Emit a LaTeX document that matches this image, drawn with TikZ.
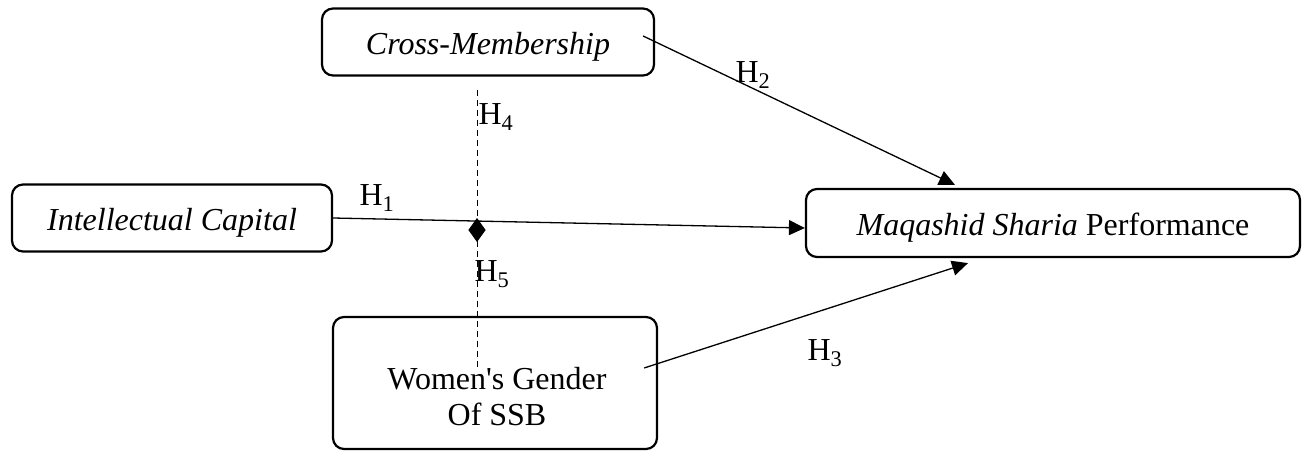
\documentclass[tikz,border=0pt]{standalone}
\usepackage{fontspec}
\setmainfont{Liberation Serif}
\usetikzlibrary{calc}
\usetikzlibrary{arrows.meta}
\tikzset{
  varbox/.style={draw, line width=2.2pt, rounded corners=11pt, inner sep=0pt, text height=29pt, text depth=4pt, align=center, font=\fontsize{32}{36}\selectfont},
  vartext/.style={inner sep=0pt, align=center, font=\fontsize{32}{36}\selectfont},
  hlabel/.style={inner sep=0pt, font=\fontsize{32}{36}\selectfont},
  link/.style={line width=1.3pt, -{Triangle[length=16pt,width=15pt]}},
  modlink/.style={line width=1pt, dash pattern=on 6pt off 4pt, -{Triangle[length=12pt,width=17pt]}}
}
\begin{document}
\begin{tikzpicture}[x=1pt,y=-1pt]
        \useasboundingbox (0,0) rectangle (1316,450);
        % variables
        \node[varbox, minimum width=332pt, minimum height=67pt] (cm) at (488,42) {\textit{Cross-Membership}};
        \node[varbox, minimum width=320pt, minimum height=67pt] (ic) at (172,218) {\textit{Intellectual Capital}};
        \node[varbox, minimum width=494pt, minimum height=68pt] (msp) at (1053,223) {\textit{Maqashid Sharia} Performance};
        \node[varbox, minimum width=324pt, minimum height=132pt] (wg) at (495,383) {};
        \node[vartext] (wgt) at (497,397) {Women\textquotesingle s Gender\\Of SSB};
        % moderation point
        \coordinate (mtop) at (477,218);
        \coordinate (mbot) at (477,242);
        % paths
        \draw[link] (ic.east) -- ($(msp.west)+(0,5)$);
        \draw[link] ($(cm.east)+(-12,-6)$) -- ($(msp.north)+(-98,-3)$);
        \draw[link] ($(wg.east)+(-14,-15)$) -- ($(msp.south)+(-85,5)$);
        \draw[modlink] ($(cm.south)+(-11,13)$) -- (mbot);
        \draw[modlink] ($(wg.north)+(-18,51)$) -- (mtop);
        % hypotheses
        \node[hlabel] (h1) at (377,198) {H\textsubscript{1}};
        \node[hlabel] (h2) at (753,75) {H\textsubscript{2}};
        \node[hlabel] (h3) at (825,353) {H\textsubscript{3}};
        \node[hlabel] (h4) at (496,117) {H\textsubscript{4}};
        \node[hlabel] (h5) at (492,274) {H\textsubscript{5}};
\end{tikzpicture}
\end{document}
